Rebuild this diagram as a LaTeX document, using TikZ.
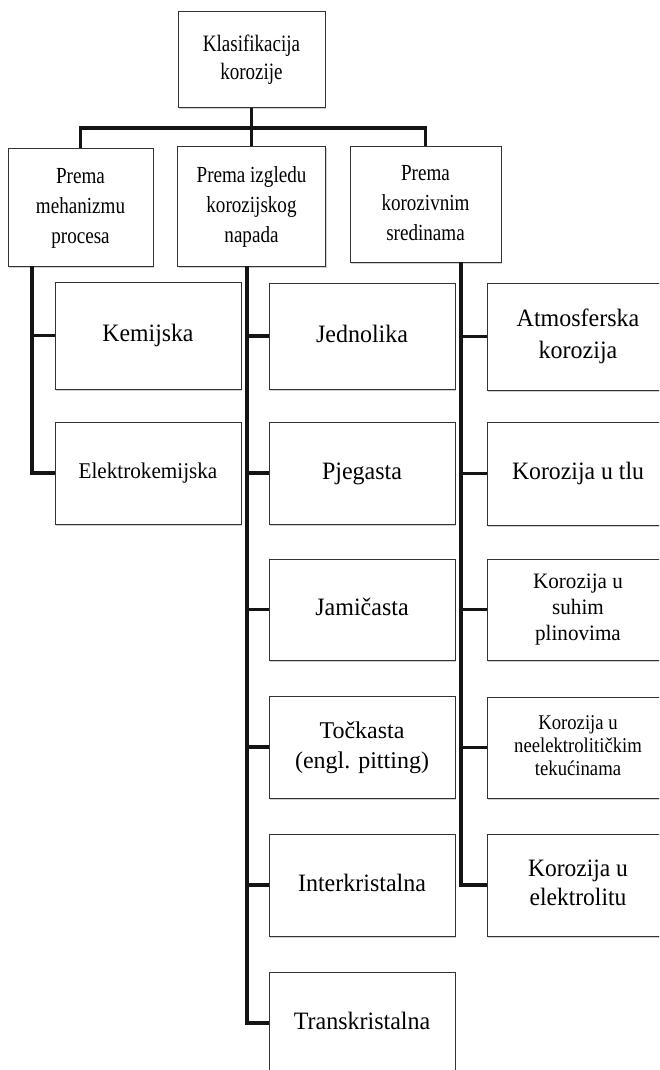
\documentclass[tikz,border=0pt]{standalone}
\usepackage{fontspec}
\usepackage{graphicx}
\setmainfont{Liberation Serif}
\usetikzlibrary{shadows}
\newcommand\tx[4]{\scalebox{#3}[1]{\fontsize{#1}{#2}\selectfont\begin{tabular}{@{}c@{}}#4\end{tabular}}}
\tikzset{
  box/.style={draw=black!80, line width=1pt, fill=white, rectangle, inner sep=0pt,
    drop shadow={shadow xshift=1.2pt, shadow yshift=-1.5pt, opacity=0.18, fill=black}},
  conn/.style={draw=black!92, line width=3.6pt},
}
\begin{document}
\begin{tikzpicture}[x=1pt,y=-1pt]
\useasboundingbox (0,0) rectangle (659,1070);
\clip (0,0) rectangle (659,1070);
% level 0 and 1
\node[box, minimum width=147pt, minimum height=96pt] (top) at (251.5,60) {\tx{23.5}{28}{0.81}{Klasifikacija\\korozije}};
\node[box, minimum width=145pt, minimum height=118pt] (L) at (80.5,207) {\tx{23}{30}{0.83}{Prema\\mehanizmu\\procesa}};
\node[box, minimum width=148pt, minimum height=120pt] (M) at (251.5,206) {\tx{23}{30}{0.83}{Prema izgledu\\korozijskog\\napada}};
\node[box, minimum width=151pt, minimum height=116pt] (R) at (425.5,204) {\tx{23}{30}{0.83}{Prema\\korozivnim\\sredinama}};
% left children
\node[box, minimum width=186pt, minimum height=107pt] (K1) at (148,335.5) {\tx{25}{30}{0.95}{Kemijska}};
\node[box, minimum width=186pt, minimum height=102pt] (K2) at (148,473) {\tx{22.5}{28}{0.94}{Elektrokemijska}};
% middle children
\node[box, minimum width=186pt, minimum height=106pt] (J1) at (362,336) {\tx{25}{30}{0.96}{Jednolika}};
\node[box, minimum width=186pt, minimum height=102pt] (J2) at (362,473) {\tx{25}{30}{0.96}{Pjegasta}};
\node[box, minimum width=186pt, minimum height=101pt] (J3) at (362,609.5) {\tx{25}{30}{0.96}{Jami\v{c}asta}};
\node[box, minimum width=186pt, minimum height=102pt] (J4) at (362,747) {\tx{24}{30}{1.0}{To\v{c}kasta\\(engl. pitting)}};
\node[box, minimum width=186pt, minimum height=102pt] (J5) at (362,885) {\tx{25}{30}{0.96}{Interkristalna}};
\node[box, minimum width=186pt, minimum height=102pt] (J6) at (362,1023) {\tx{25}{30}{0.96}{Transkristalna}};
% right children
\node[box, minimum width=182pt, minimum height=107pt] (S1) at (578,336.5) {\tx{25}{32}{0.96}{Atmosferska\\korozija}};
\node[box, minimum width=182pt, minimum height=103pt] (S2) at (578,473.5) {\tx{25}{30}{0.95}{Korozija u tlu}};
\node[box, minimum width=182pt, minimum height=101pt] (S3) at (578,609.5) {\tx{22}{26}{0.96}{Korozija u\\suhim\\plinovima}};
\node[box, minimum width=182pt, minimum height=101pt] (S4) at (578,747.5) {\tx{21}{23}{0.89}{Korozija u\\neelektroliti\v{c}kim\\teku\'{c}inama}};
\node[box, minimum width=182pt, minimum height=102pt] (S5) at (578,885) {\tx{25}{29}{0.94}{Korozija u\\elektrolitu}};
% connectors top
\coordinate (bus) at (251.5,128);
\draw[conn] (top.south) -- (M.north);
\draw[conn] (L.north) |- (bus) -| (R.north);
% trunks
\coordinate (lt) at (32,266);
\coordinate (mt) at (247,266);
\coordinate (rt) at (461,262);
\draw[conn] (lt) |- (K2.west);
\draw[conn] (lt |- K1.west) -- (K1.west);
\draw[conn] (mt) |- (J6.west);
\foreach \n in {J1,J2,J3,J4,J5} \draw[conn] (mt |- \n.west) -- (\n.west);
\draw[conn] (rt) |- (S5.west);
\foreach \n in {S1,S2,S3,S4} \draw[conn] (rt |- \n.west) -- (\n.west);
\end{tikzpicture}
\end{document}
